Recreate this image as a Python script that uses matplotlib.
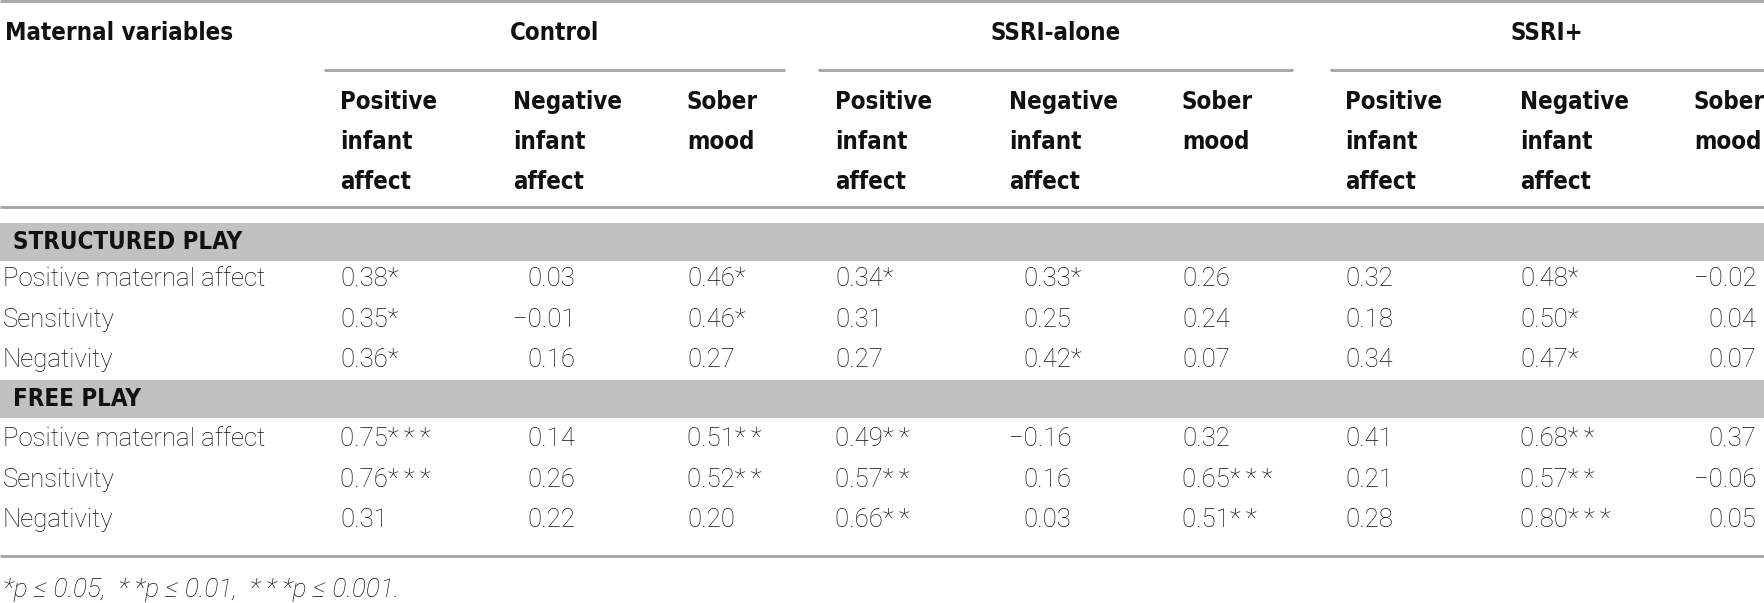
import matplotlib
matplotlib.use("Agg")
import matplotlib.pyplot as plt

# table content
groups = ["Control", "SSRI-alone", "SSRI+"]
sub_headers = [["Positive", "infant", "affect"],
               ["Negative", "infant", "affect"],
               ["Sober", "mood"]]
sections = ["STRUCTURED PLAY", "FREE PLAY"]
row_labels = ["Positive maternal affect", "Sensitivity", "Negativity"]

# correlations, columns: Control (pos, neg, sober), SSRI-alone (...), SSRI+ (...)
structured_r = [[0.38, 0.03, 0.46, 0.34, 0.33, 0.26, 0.32, 0.48, -0.02],
                [0.35, -0.01, 0.46, 0.31, 0.25, 0.24, 0.18, 0.50, 0.04],
                [0.36, 0.16, 0.27, 0.27, 0.42, 0.07, 0.34, 0.47, 0.07]]
structured_stars = [[1, 0, 1, 1, 1, 0, 0, 1, 0],
                    [1, 0, 1, 0, 0, 0, 0, 1, 0],
                    [1, 0, 0, 0, 1, 0, 0, 1, 0]]
free_r = [[0.75, 0.14, 0.51, 0.49, -0.16, 0.32, 0.41, 0.68, 0.37],
          [0.76, 0.26, 0.52, 0.57, 0.16, 0.65, 0.21, 0.57, -0.06],
          [0.31, 0.22, 0.20, 0.66, 0.03, 0.51, 0.28, 0.80, 0.05]]
free_stars = [[3, 0, 2, 2, 0, 0, 0, 2, 0],
              [3, 0, 2, 2, 0, 3, 0, 2, 0],
              [0, 0, 0, 2, 0, 2, 0, 3, 0]]
footnote = "*p \u2264 0.05,  *\u2009*p \u2264 0.01,  *\u2009*\u2009*p \u2264 0.001."

W, H = 1765, 603
fig = plt.figure(figsize=(W / 100, H / 100), dpi=100)
ax = fig.add_axes([0, 0, 1, 1])
ax.set_xlim(0, W)
ax.set_ylim(H, 0)
ax.axis("off")

head = dict(family=["Liberation Sans Narrow", "DejaVu Sans"], fontweight="bold",
            fontstretch="condensed", fontsize=17.3, color="#111111")
body = dict(family=["Roboto", "DejaVu Sans"], fontweight="light",
            fontsize=18.5, color="#111111")
line_c = "#a5a5a5"

col_x = [340, 513, 687, 835, 1009, 1182, 1345, 1520, 1694]
group_spans = [(324, 785), (818, 1293), (1330, 1765)]

# rules
ax.hlines(1, 0, W, color=line_c, lw=2)
for x0, x1 in group_spans:
    ax.hlines(70, x0, x1, color=line_c, lw=2)
ax.hlines(207, 0, W, color=line_c, lw=2)
ax.hlines(556, 0, W, color=line_c, lw=2)

# header
ax.text(5, 33, "Maternal variables", ha="left", va="center", **head)
for (x0, x1), g in zip(group_spans, groups):
    ax.text((x0 + x1) / 2 if x1 < W else 1547, 33, g, ha="center", va="center", **head)
for gi in range(3):
    for si, words in enumerate(sub_headers):
        for li, w in enumerate(words):
            ax.text(col_x[gi * 3 + si], 102 + li * 40, w, ha="left", va="center", **head)

# width of the minus sign, for shifting columns that hold negatives
r = fig.canvas.get_renderer()
t = ax.text(0, 0, "\u22120", **body)
t0 = ax.text(0, 0, "0", **body)
wm = t.get_window_extent(r).width - t0.get_window_extent(r).width
t.remove()
t0.remove()

all_r = structured_r + free_r
has_neg = [any(row[c] < 0 for row in all_r) for c in range(9)]

band_y = [(223, 261), (380, 418)]
row_y = [[279, 320, 360], [439, 480, 520]]
for (y0, y1), name, rows, vals, stars in zip(band_y, sections, row_y,
                                             [structured_r, free_r],
                                             [structured_stars, free_stars]):
    ax.axhspan(y0, y1, color="#c1c1c1", lw=0)
    ax.text(13, (y0 + y1) / 2, name, ha="left", va="center", **head)
    for y, lab, rv, sv in zip(rows, row_labels, vals, stars):
        ax.text(3, y, lab, ha="left", va="center", **body)
        for c in range(9):
            s = f"{abs(rv[c]):.2f}"
            s = ("\u2212" if rv[c] < 0 else "") + s + "\u2009".join("*" * sv[c])
            x = col_x[c] + (wm if has_neg[c] and rv[c] >= 0 else 0)
            ax.text(x, y, s, ha="left", va="center", **body)

ax.text(3, 590, footnote, ha="left", va="center", style="italic",
        **{**body, "fontsize": 19})

fig.savefig("out.png", dpi=100)
